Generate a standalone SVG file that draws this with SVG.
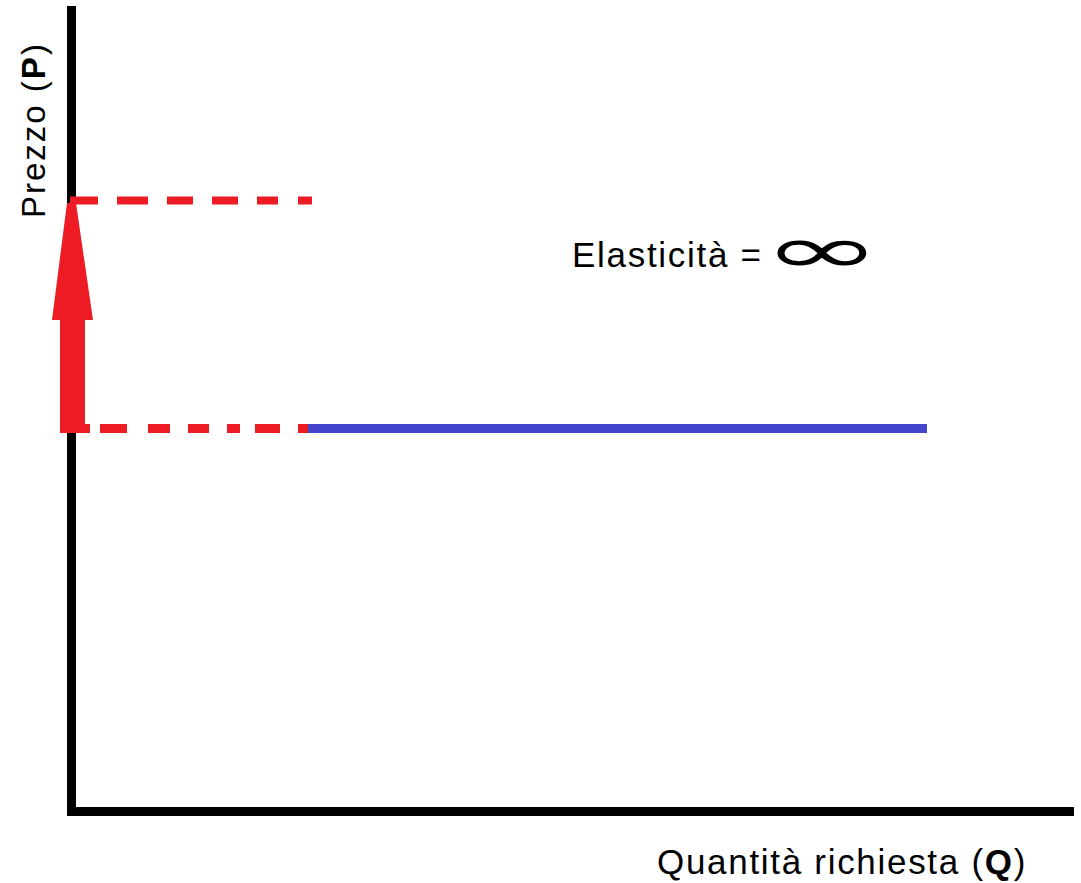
<svg xmlns="http://www.w3.org/2000/svg" width="1081" height="883" viewBox="0 0 1081 883">
<style>
.axis{stroke:#000;stroke-width:9;fill:none}
.dash{stroke:#ED1C24;fill:none}
.lbl{font-family:"Liberation Sans",Arial,sans-serif;font-size:35px;fill:#000;letter-spacing:1.7px}
</style>
<rect width="1081" height="883" fill="#fff"/>
<g id="axes">
<path class="axis" d="M71.5,6 V811.5 H1074"/>
</g>
<g id="connectors">
<path class="dash" stroke-width="8" d="M70,200.5H98M117,200.5H148M167,200.5H193M212,200.5H238M257,200.5H278M298,200.5H312"/>
<path class="dash" stroke-width="9" d="M60,428.5H90M100,428.5H127M148,428.5H170M188,428.5H209M227,428.5H240M255,428.5H280M298,428.5H308"/>
<path id="demand" stroke="#4444CC" stroke-width="9" d="M308,428.5H927"/>
<path id="arrow" fill="#ED1C24" d="M60,430 L60,320 L52,320 L67,203 L76,203 L93,320 L85,320 L85,430 Z"/>
</g>
<g id="labels">
<text class="lbl" transform="translate(45,218) rotate(-90)" style="font-size:33px;letter-spacing:2px">Prezzo (<tspan font-weight="bold">P</tspan>)</text>
<text class="lbl" x="657" y="874">Quantità richiesta (<tspan font-weight="bold">Q</tspan>)</text>
<text class="lbl" x="572" y="267">Elasticità =</text>
<text transform="translate(762,273) scale(2.15,1)" style="font-family:'DejaVu Sans',sans-serif;font-size:67px;fill:#000">∞</text>
</g>
</svg>
